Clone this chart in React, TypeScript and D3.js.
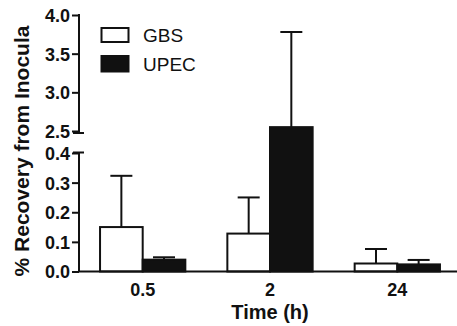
import React, { useEffect, useRef } from "react";
import * as d3 from "d3";

const categories = ["0.5", "2", "24"];
const seriesNames = ["GBS", "UPEC"];
const gbsMean = [0.15, 0.128, 0.027];
const gbsErr = [0.173, 0.122, 0.049];
const upecMean = [0.04, 2.55, 0.024];
const upecErr = [0.008, 1.23, 0.015];
const lowerTicks = [0, 0.1, 0.2, 0.3, 0.4];
const upperTicks = [2.5, 3.0, 3.5, 4.0];

const fills = ["#ffffff", "#111111"];
const font = "'Liberation Sans', Arial, Helvetica, sans-serif";

function App() {
  const svgRef = useRef<SVGSVGElement>(null);
  const width = 457;
  const height = 326;

  useEffect(() => {
    const svg = d3.select(svgRef.current);
    svg.selectAll("*").remove();

    const axisX = 79;
    const xRight = 457;

    // broken y axis: lower and upper segments
    const yLow = d3.scaleLinear().domain([0, 0.4]).range([271.5, 153]);
    const yHigh = d3.scaleLinear().domain([2.5, 4.0]).range([131, 15]);
    const y = (v: number) => (v <= 0.4 ? yLow(v) : yHigh(v));

    const x = d3
      .scaleBand()
      .domain(categories)
      .range([78.4, 461.6])
      .paddingInner(0.33)
      .paddingOuter(0.17);

    const xSub = d3
      .scaleBand()
      .domain(seriesNames)
      .range([0, x.bandwidth()])
      .padding(0);

    const rows = categories.flatMap((c, i) => [
      { cat: c, series: "GBS", mean: gbsMean[i], err: gbsErr[i] },
      { cat: c, series: "UPEC", mean: upecMean[i], err: upecErr[i] },
    ]);

    const color = d3.scaleOrdinal<string>().domain(seriesNames).range(fills);

    // error bars (upper only)
    const capW = 22;
    rows.forEach((d) => {
      const cx = x(d.cat)! + xSub(d.series)! + xSub.bandwidth() / 2;
      const top = y(d.mean + d.err);
      svg
        .append("line")
        .attr("x1", cx)
        .attr("x2", cx)
        .attr("y1", y(d.mean))
        .attr("y2", top)
        .attr("stroke", "#111")
        .attr("stroke-width", 2);
      svg
        .append("line")
        .attr("x1", cx - capW / 2)
        .attr("x2", cx + capW / 2)
        .attr("y1", top)
        .attr("y2", top)
        .attr("stroke", "#111")
        .attr("stroke-width", 2);
    });

    // bars
    svg
      .append("g")
      .selectAll("rect")
      .data(rows)
      .join("rect")
      .attr("x", (d) => x(d.cat)! + xSub(d.series)!)
      .attr("y", (d) => y(d.mean))
      .attr("width", xSub.bandwidth())
      .attr("height", (d) => y(0) - y(d.mean))
      .attr("fill", (d) => color(d.series))
      .attr("stroke", "#111")
      .attr("stroke-width", 2);

    // x axis line
    svg
      .append("line")
      .attr("x1", axisX)
      .attr("x2", xRight)
      .attr("y1", y(0))
      .attr("y2", y(0))
      .attr("stroke", "#111")
      .attr("stroke-width", 2);

    // y axis segments
    const axisLower = svg
      .append("g")
      .attr("transform", `translate(${axisX},0)`)
      .call(
        d3
          .axisLeft(yLow)
          .tickValues(lowerTicks)
          .tickSize(7)
          .tickSizeOuter(0)
          .tickFormat(d3.format(".1f"))
      );
    const axisUpper = svg
      .append("g")
      .attr("transform", `translate(${axisX},0)`)
      .call(
        d3
          .axisLeft(yHigh)
          .tickValues(upperTicks)
          .tickSize(7)
          .tickSizeOuter(0)
          .tickFormat(d3.format(".1f"))
      );
    [axisLower, axisUpper].forEach((g) => {
      g.select(".domain").remove();
      g.selectAll("line").attr("stroke", "#111").attr("stroke-width", 2);
      g.selectAll("text")
        .attr("x", -9)
        .attr("dy", "0.36em")
        .style("font-family", font)
        .style("font-size", "18px")
        .style("font-weight", "bold")
        .attr("fill", "#111");
    });

    // axis segment lines with break caps
    svg
      .append("line")
      .attr("x1", axisX)
      .attr("x2", axisX)
      .attr("y1", yHigh(4.0) - 1)
      .attr("y2", 133)
      .attr("stroke", "#111")
      .attr("stroke-width", 2);
    svg
      .append("line")
      .attr("x1", axisX)
      .attr("x2", axisX)
      .attr("y1", 152.5)
      .attr("y2", y(0))
      .attr("stroke", "#111")
      .attr("stroke-width", 2);
    [133, 152.5].forEach((yy) =>
      svg
        .append("line")
        .attr("x1", axisX - 6)
        .attr("x2", axisX + 5)
        .attr("y1", yy)
        .attr("y2", yy)
        .attr("stroke", "#111")
        .attr("stroke-width", 2)
    );

    // x tick labels
    svg
      .append("g")
      .selectAll("text")
      .data(categories)
      .join("text")
      .attr("x", (d) => x(d)! + x.bandwidth() / 2)
      .attr("y", 295.5)
      .attr("text-anchor", "middle")
      .style("font-family", font)
      .style("font-size", "18px")
      .style("font-weight", "bold")
      .attr("fill", "#111")
      .text((d) => d);

    // x title
    svg
      .append("text")
      .attr("x", 270)
      .attr("y", 319)
      .attr("text-anchor", "middle")
      .style("font-family", font)
      .style("font-size", "20px")
      .style("font-weight", "bold")
      .attr("fill", "#111")
      .text("Time (h)");

    // y title
    svg
      .append("text")
      .attr("text-anchor", "middle")
      .attr("transform", `translate(29,151)rotate(-90)`)
      .style("font-family", font)
      .style("font-size", "21px")
      .style("font-weight", "bold")
      .attr("fill", "#111")
      .text("% Recovery from Inocula");

    // legend
    const legend = svg.append("g");
    seriesNames.forEach((s, i) => {
      const ly = i === 0 ? 28 : 56;
      legend
        .append("rect")
        .attr("x", 101.5)
        .attr("y", ly)
        .attr("width", 27)
        .attr("height", 14 + i * 1.5)
        .attr("fill", color(s))
        .attr("stroke", "#111")
        .attr("stroke-width", 2);
      legend
        .append("text")
        .attr("x", 143)
        .attr("y", ly + 13.5 + i * 1.5)
        .style("font-family", font)
        .style("font-size", "19px")
        .attr("fill", "#111")
        .text(s);
    });
  }, []);

  return (
    <svg
      ref={svgRef}
      width={width}
      height={height}
      style={{ position: "absolute", left: 0, top: 0, background: "#fff" }}
    ></svg>
  );
}

export default App;
